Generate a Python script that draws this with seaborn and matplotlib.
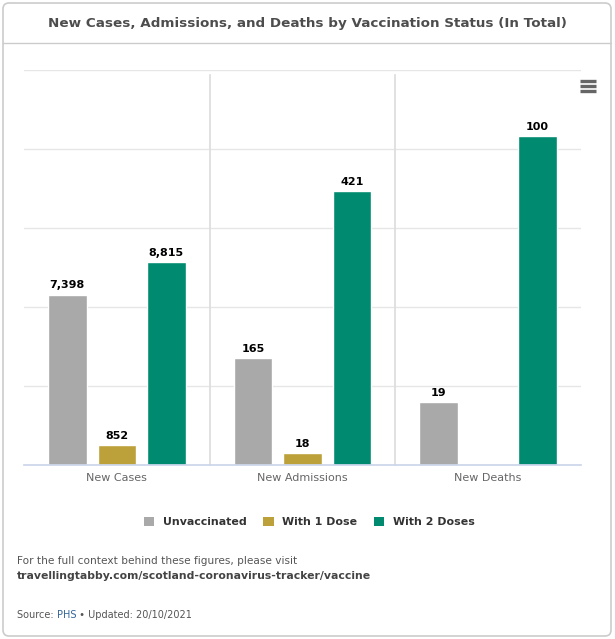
import numpy as np
import pandas as pd
import matplotlib
matplotlib.use('Agg')
import matplotlib.pyplot as plt
from matplotlib.patches import Patch, FancyBboxPatch
import seaborn as sns

# ── data ──
categories = ["New Cases", "New Admissions", "New Deaths"]
statuses = ["Unvaccinated", "With 1 Dose", "With 2 Doses"]
unvaccinated = [7398, 165, 19]
one_dose = [852, 18, np.nan]
two_doses = [8815, 421, 100]
axis_max = [17150, 608, 120]   # each category has its own y scale

palette = {"Unvaccinated": "#a9a9a9", "With 1 Dose": "#bca13b", "With 2 Doses": "#008b70"}

df = pd.DataFrame({
    "category": np.repeat(categories, 3),
    "status": statuses * 3,
    "value": [v for trio in zip(unvaccinated, one_dose, two_doses) for v in trio],
})

sns.set_theme(style="white")
plt.rcParams['font.family'] = ['DejaVu Sans']

W, H = 615, 639
fig = plt.figure(figsize=(W / 100, H / 100), dpi=100)
fig.patch.set_facecolor('white')

left, right, top, bottom = 24, 581, 70, 465
cw = (right - left) / 3

for i, cat in enumerate(categories):
    ax = fig.add_axes([(left + i * cw) / W, 1 - bottom / H, cw / W, (bottom - top) / H])
    sub = df[df.category == cat].dropna()
    sns.barplot(data=sub, x="category", y="value", hue="status", hue_order=statuses,
                palette=palette, width=0.8, gap=0.22, saturation=1, legend=False, ax=ax)
    ax.set_xlim(-0.5, 0.5)
    ax.set_ylim(0, axis_max[i])
    ax.set_yticks(np.linspace(0, axis_max[i], 6))
    ax.yaxis.grid(True, color='#e6e6e6', lw=1)
    ax.set_axisbelow(True)
    ax.set_yticklabels([])
    ax.tick_params(axis='y', length=0)
    ax.tick_params(axis='x', length=0, pad=6, labelsize=8, labelcolor='#666666')
    ax.set_xlabel(''); ax.set_ylabel('')
    for s in ['top', 'right']:
        ax.spines[s].set_visible(False)
    ax.spines['left'].set_visible(i > 0)
    ax.spines['left'].set_color('#dddddd')
    ax.spines['left'].set_bounds(0, axis_max[i] * 0.987)
    ax.spines['bottom'].set_color('#ccd6eb')
    for p in ax.patches:
        h = p.get_height()
        if np.isnan(h) or h <= 0:
            continue
        ax.annotate(f"{h:,.0f}", (p.get_x() + p.get_width() / 2, h),
                    xytext=(0, 3), textcoords='offset points', ha='center', va='bottom',
                    fontsize=8, fontweight='bold', color='black')

# overlay in pixel coordinates for the card decorations and texts
ov = fig.add_axes([0, 0, 1, 1], zorder=10)
ov.set_xlim(0, W); ov.set_ylim(H, 0)
ov.axis('off')
ov.patch.set_alpha(0)

ov.add_patch(FancyBboxPatch((3, 3), 608, 633, boxstyle="round,pad=0,rounding_size=6",
                            fc='none', ec='#cccccc', lw=1.2))
ov.plot([3, 611], [43, 43], color='#cccccc', lw=1)

ov.text(307, 23, "New Cases, Admissions, and Deaths by Vaccination Status (In Total)",
        ha='center', va='center', fontsize=9.7, fontweight='bold', color='#4d4d4d')

# export menu icon
for y in [81, 86, 91]:
    ov.plot([580, 596], [y, y], color='#666666', lw=2.4, solid_capstyle='butt')

handles = [Patch(facecolor=palette[s], edgecolor='none') for s in statuses]
leg = fig.legend(handles, statuses, loc='center', bbox_to_anchor=(0.503, 1 - 522 / H),
                 ncol=3, frameon=False, handlelength=0.95, handleheight=0.95,
                 handletextpad=0.8, columnspacing=1.5,
                 prop={'size': 7.9, 'weight': 'bold'})
for t in leg.get_texts():
    t.set_color('#333333')

ov.text(17, 561, "For the full context behind these figures, please visit",
        ha='left', va='center', fontsize=7.6, color='#555555')
ov.text(17, 576, "travellingtabby.com/scotland-coronavirus-tracker/vaccine",
        ha='left', va='center', fontsize=7.8, fontweight='bold', color='#444444')

t1 = ov.text(17, 615, "Source: ", ha='left', va='center', fontsize=7.0, color='#555555')
t2 = ov.annotate("PHS", xy=(1, 0), xycoords=t1, ha='left', va='bottom',
                 fontsize=7.0, color='#336699')
ov.annotate(" \u2022 Updated: 20/10/2021", xy=(1, 0), xycoords=t2, ha='left', va='bottom',
            fontsize=7.0, color='#555555')

fig.savefig('out.png', dpi=100)
